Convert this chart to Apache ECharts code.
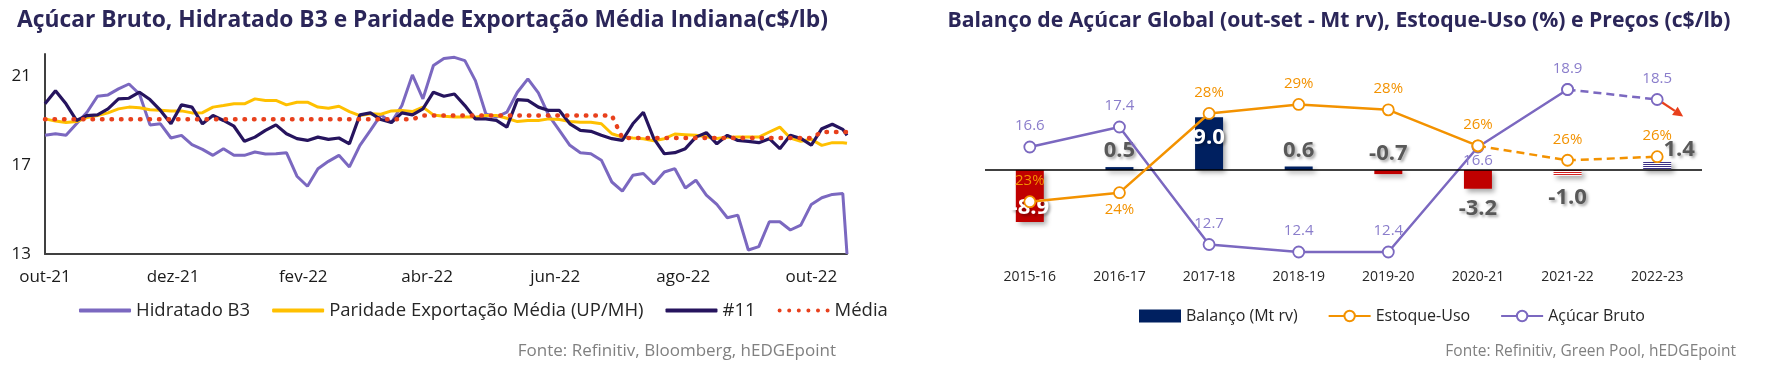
<!DOCTYPE html>
<html><head><meta charset="utf-8">
<script src="https://cdn.jsdelivr.net/npm/echarts@6/dist/echarts.min.js"></script>
<style>html,body{margin:0;padding:0;background:#fff}#c{width:1783px;height:374px}</style>
</head><body><div id="c"></div>
<script>
// ---------- Left chart data ----------
const xDates = [
'2021-10-01','2021-10-06','2021-10-11','2021-10-16','2021-10-21','2021-10-26','2021-10-31',
'2021-11-05','2021-11-10','2021-11-15','2021-11-20','2021-11-25','2021-11-30',
'2021-12-05','2021-12-10','2021-12-15','2021-12-20','2021-12-25','2021-12-30',
'2022-01-04','2022-01-09','2022-01-14','2022-01-19','2022-01-24','2022-01-29',
'2022-02-03','2022-02-08','2022-02-13','2022-02-18','2022-02-23','2022-02-28',
'2022-03-05','2022-03-10','2022-03-15','2022-03-20','2022-03-25','2022-03-30',
'2022-04-04','2022-04-09','2022-04-14','2022-04-19','2022-04-24','2022-04-29',
'2022-05-04','2022-05-09','2022-05-14','2022-05-19','2022-05-24','2022-05-29',
'2022-06-03','2022-06-08','2022-06-13','2022-06-18','2022-06-23','2022-06-28',
'2022-07-03','2022-07-08','2022-07-13','2022-07-18','2022-07-23','2022-07-28',
'2022-08-02','2022-08-07','2022-08-12','2022-08-17','2022-08-22','2022-08-27',
'2022-09-01','2022-09-06','2022-09-11','2022-09-16','2022-09-21','2022-09-26',
'2022-10-01','2022-10-06','2022-10-11','2022-10-16','2022-10-18'];

const hidratadoB3 = [
18.34,18.41,18.34,18.86,19.38,20.10,20.16,
20.43,20.65,20.20,18.81,18.86,18.22,
18.34,17.92,17.71,17.44,17.74,17.44,
17.44,17.59,17.50,17.51,17.56,16.50,
16.05,16.84,17.17,17.44,16.92,17.89,
18.56,19.26,18.92,19.68,21.06,19.98,
21.48,21.80,21.85,21.70,20.80,19.30,
19.16,19.38,20.28,20.88,20.25,19.23,
18.56,17.89,17.56,17.51,17.22,16.24,
15.83,16.54,16.62,16.15,16.69,16.84,
15.97,16.32,15.65,15.23,14.63,14.75,
13.18,13.33,14.45,14.45,14.08,14.30,
15.23,15.53,15.68,15.72,13.00];

const paridade = [
19.08,18.98,18.92,18.96,19.14,19.23,19.35,
19.53,19.61,19.58,19.49,19.47,19.43,
19.44,19.35,19.36,19.61,19.68,19.76,
19.76,19.98,19.91,19.91,19.71,19.83,
19.83,19.61,19.56,19.65,19.41,19.23,
19.31,19.29,19.44,19.46,19.41,19.61,
19.26,19.20,19.16,19.16,19.16,19.23,
19.23,19.11,18.96,19.01,19.01,19.08,
19.05,18.96,18.93,18.93,18.86,18.41,
18.26,18.22,18.19,18.10,18.19,18.40,
18.37,18.34,18.28,18.20,18.25,18.26,
18.26,18.26,18.49,18.71,18.22,18.07,
18.16,17.89,18.01,18.01,17.98];

const sugar11 = [
19.76,20.35,19.76,19.01,19.23,19.26,19.53,
19.98,20.01,20.28,19.95,19.46,18.86,
19.71,19.61,18.86,19.23,19.01,18.75,
18.07,18.26,18.56,18.81,18.41,18.19,
18.11,18.26,18.16,18.22,17.96,19.26,
19.35,19.05,18.92,19.35,19.26,19.53,
20.28,20.10,20.20,19.68,19.08,19.08,
19.01,18.71,19.95,19.91,19.61,19.46,
19.46,18.86,18.56,18.52,18.34,18.19,
18.11,18.86,19.38,18.19,17.51,17.56,
17.74,18.26,18.46,17.96,18.34,18.11,
18.07,18.01,18.19,17.74,18.34,18.20,
17.90,18.64,18.84,18.61,18.34];

const media = [
19.06,19.06,19.06,19.06,19.06,19.06,19.06,
19.06,19.06,19.06,19.06,19.06,19.06,
19.06,19.06,19.06,19.06,19.06,19.06,
19.06,19.06,19.06,19.06,19.06,19.06,
19.06,19.06,19.06,19.06,19.06,19.06,
19.06,19.06,19.06,19.06,19.06,19.23,
19.23,19.23,19.23,19.23,19.23,19.23,
19.23,19.23,19.23,19.23,19.23,19.23,
19.23,19.23,19.23,19.23,19.23,19.23,
18.22,18.22,18.22,18.22,18.22,18.22,
18.22,18.22,18.22,18.22,18.22,18.22,
18.22,18.22,18.22,18.22,18.22,18.22,
18.22,18.49,18.49,18.49,18.49];

const xTickDates = ['2021-10-01','2021-12-01','2022-02-01','2022-04-01','2022-06-01','2022-08-01','2022-10-01'];
const monthsPt = ['jan','fev','mar','abr','mai','jun','jul','ago','set','out','nov','dez'];
const yTicksLeft = [13, 17, 21];

// ---------- Right chart data ----------
const seasons = ['2015-16','2016-17','2017-18','2018-19','2019-20','2020-21','2021-22','2022-23'];
const balance = [-8.9, 0.5, 9.0, 0.6, -0.7, -3.2, -1.0, 1.4];
const stockUse = [23.3, 23.8, 28.2, 28.7, 28.4, 26.4, 25.6, 25.8];
const rawPrice = [16.6, 17.4, 12.7, 12.4, 12.4, 16.6, 18.9, 18.5];

// ---------- styles ----------
const FONT = "'Open Sans', sans-serif";
const C_HYD = '#7B68C0', C_PAR = '#FFC000', C_11 = '#26145E', C_MED = '#E8401C';
const NAVY = '#002060', RED = '#C00000', ORANGE = '#F39200', PURPLE = '#7B68C0';
const stockDashFrom = 5, priceDashFrom = 6, hatchFrom = 6;

function ts(s){ const p = s.split('-'); return new Date(+p[0], +p[1]-1, +p[2]).getTime(); }
function stripes(c){
  const cv = document.createElement('canvas'); cv.width = 4; cv.height = 2;
  const g = cv.getContext('2d'); g.fillStyle = '#ffffff'; g.fillRect(0,0,4,2);
  g.fillStyle = c; g.fillRect(0,0,4,1);
  return {image: cv, repeat: 'repeat'};
}
// dotted legend icon (six round dots)
let dotPath = 'path://';
for (let k = 0; k < 6; k++) { const cx = 2 + k * 9.6; dotPath += 'M' + (cx - 2) + ',2a2,2 0 1,0 4,0a2,2 0 1,0 -4,0z'; }

const barLabelStyle = [
  {position:'insideBottom', distance:3, color:'#fff'},
  {position:'top', distance:5},
  {position:'insideTop', distance:9, color:'#fff'},
  {position:'top', distance:5},
  {position:'top', distance:5},
  {position:'bottom', distance:9},
  {position:'bottom', distance:11},
  {position:'top', distance:1, offset:[22,0]}
];

const chart = echarts.init(document.getElementById('c'), null, {renderer:'canvas'});
const pair = arr => xDates.map((d,i) => [ts(d), arr[i]]);

const barData = balance.map((v,i) => {
  let color = v >= 0 ? NAVY : RED;
  if (i >= hatchFrom) color = stripes(v >= 0 ? '#3B2F86' : '#D62020');
  return {value: v, itemStyle: {color}, label: barLabelStyle[i]};
});

const fonteTexts = [
  {type: 'text', right: 1783 - 836, top: 343, style: {text: 'Fonte: Refinitiv, Bloomberg, hEDGEpoint', fill: '#808080', font: "17px 'Open Sans'"}},
  {type: 'text', right: 1783 - 1736, top: 344, style: {text: 'Fonte: Refinitiv, Green Pool, hEDGEpoint', fill: '#808080', font: "15.5px 'Open Sans'"}}
];

const option = {
  animation: false,
  textStyle: {fontFamily: FONT},
  title: [
    {text: 'Açúcar Bruto, Hidratado B3 e Paridade Exportação Média Indiana(c$/lb)', left: 12, top: 4,
     textStyle: {fontSize: 22.8, fontWeight: 'bold', color: '#2B2659', fontFamily: FONT}},
    {text: 'Balanço de Açúcar Global (out-set - Mt rv), Estoque-Uso (%) e Preços (c$/lb)', left: 1334, textAlign: 'center', top: 5,
     textStyle: {fontSize: 21.2, fontWeight: 'bold', color: '#2B2659', fontFamily: FONT}}
  ],
  legend: [
    {data: [{name:'Hidratado B3', icon:'roundRect'}, {name:'Paridade Exportação Média (UP/MH)', icon:'roundRect'},
            {name:'#11', icon:'roundRect'}, {name:'Média', icon: dotPath}],
     left: 74, top: 296, itemWidth: 52, itemHeight: 4, itemGap: 22,
     textStyle: {fontSize: 18.5, color: '#262626', fontFamily: FONT}},
    {data: [{name:'Balanço (Mt rv)', icon:'rect'}, 'Estoque-Uso', 'Açúcar Bruto'], left: 1134, top: 303,
     itemWidth: 42, itemHeight: 13, itemGap: 30,
     textStyle: {fontSize: 16, color: '#262626', fontFamily: FONT}}
  ],
  grid: [
    {left: 45, top: 54, width: 802, height: 200},
    {left: 985, top: 60, width: 717, height: 200}
  ],
  xAxis: [
    {type: 'value', gridIndex: 0, min: ts('2021-10-01'), max: ts('2022-10-18'),
     axisLine: {show: true, onZero: false, lineStyle: {color: '#404040', width: 2}},
     axisTick: {show: false}, splitLine: {show: false},
     axisLabel: {customValues: xTickDates.map(ts), fontSize: 17, color: '#1a1a1a', margin: 15, fontFamily: FONT,
       formatter: v => { const d = new Date(v); return monthsPt[d.getMonth()] + '-' + String(d.getFullYear()).slice(2); }}},
    {type: 'category', gridIndex: 1, data: seasons,
     axisLine: {show: false}, axisTick: {show: false},
     axisLabel: {fontSize: 14, color: '#262626', margin: 10, fontFamily: FONT}}
  ],
  yAxis: [
    {type: 'value', gridIndex: 0, min: 13, max: 22,
     axisLine: {show: true, onZero: false, lineStyle: {color: '#404040', width: 2}},
     axisTick: {show: false}, splitLine: {show: false},
     axisLabel: {customValues: yTicksLeft, fontSize: 17, color: '#1a1a1a', margin: 14, fontFamily: FONT}},
    {type: 'value', gridIndex: 1, min: -15.38, max: 18.8, show: false, splitLine:{show:false}},
    {type: 'value', gridIndex: 1, min: 20.06, max: 31.17, show: false, splitLine:{show:false}},
    {type: 'value', gridIndex: 1, min: 12.08, max: 20.08, show: false, splitLine:{show:false}}
  ],
  series: [
    {name: 'Hidratado B3', type: 'line', xAxisIndex: 0, yAxisIndex: 0, data: pair(hidratadoB3),
     symbol: 'none', lineStyle: {color: C_HYD, width: 3}, itemStyle: {color: C_HYD}, z: 2},
    {name: 'Paridade Exportação Média (UP/MH)', type: 'line', xAxisIndex: 0, yAxisIndex: 0, data: pair(paridade),
     symbol: 'none', lineStyle: {color: C_PAR, width: 3}, itemStyle: {color: C_PAR}, z: 3},
    {name: '#11', type: 'line', xAxisIndex: 0, yAxisIndex: 0, data: pair(sugar11),
     symbol: 'none', lineStyle: {color: C_11, width: 3.2}, itemStyle: {color: C_11}, z: 4},
    {name: 'Média', type: 'line', xAxisIndex: 0, yAxisIndex: 0, data: pair(media),
     symbol: 'none', lineStyle: {color: C_MED, width: 4.5, type: [0.5, 9], cap: 'round'}, itemStyle: {color: C_MED}, z: 5},

    {name: 'Balanço (Mt rv)', type: 'bar', xAxisIndex: 1, yAxisIndex: 1, barWidth: 28, data: barData,
     itemStyle: {color: NAVY, shadowColor: 'rgba(0,0,0,0.35)', shadowBlur: 5, shadowOffsetX: 3, shadowOffsetY: 3},
     label: {show: true, formatter: p => p.value.toFixed(1), fontSize: 22, fontWeight: 'bold', color: '#595959', fontFamily: FONT,
       textShadowColor: 'rgba(0,0,0,0.35)', textShadowBlur: 3, textShadowOffsetX: 2, textShadowOffsetY: 2},
     markLine: {silent: true, symbol: ['none','none'], label: {show: false},
       lineStyle: {color: '#000', width: 1.5, type: 'solid'}, data: [{yAxis: 0}]}, z: 2},

    {name: 'Açúcar Bruto', type: 'line', xAxisIndex: 1, yAxisIndex: 3,
     data: rawPrice.map((v,i) => i <= priceDashFrom ? {value: v, label: {position: i === 5 ? 'bottom' : 'top', distance: i === 5 ? 0 : 7}} : '-'),
     symbol: 'circle', symbolSize: 11, itemStyle: {color: '#fff', borderColor: PURPLE, borderWidth: 1.8},
     lineStyle: {color: PURPLE, width: 2.5},
     label: {show: true, formatter: p => p.value.toFixed(1), color: '#8A7DCB', fontSize: 15, fontFamily: FONT}, z: 4},
    {name: 'Açúcar Bruto', type: 'line', xAxisIndex: 1, yAxisIndex: 3,
     data: rawPrice.map((v,i) => i >= priceDashFrom ? {value: v, label: {show: i > priceDashFrom, position: 'top', distance: 7}} : '-'),
     symbol: 'circle', symbolSize: 11, itemStyle: {color: '#fff', borderColor: PURPLE, borderWidth: 1.8},
     lineStyle: {color: PURPLE, width: 2.5, type: [8, 5]},
     label: {show: true, formatter: p => p.value.toFixed(1), color: '#8A7DCB', fontSize: 15, fontFamily: FONT}, z: 4},

    {name: 'Estoque-Uso', type: 'line', xAxisIndex: 1, yAxisIndex: 2,
     data: stockUse.map((v,i) => i <= stockDashFrom ? {value: v, label: {position: i === 1 ? 'bottom' : 'top', distance: i === 1 ? 3 : 7}} : '-'),
     symbol: 'circle', symbolSize: 11, itemStyle: {color: '#fff', borderColor: ORANGE, borderWidth: 1.8},
     lineStyle: {color: ORANGE, width: 2.5},
     label: {show: true, formatter: p => Math.round(p.value) + '%', color: ORANGE, fontSize: 15, fontFamily: FONT}, z: 5},
    {name: 'Estoque-Uso', type: 'line', xAxisIndex: 1, yAxisIndex: 2,
     data: stockUse.map((v,i) => i >= stockDashFrom ? {value: v, label: {show: i > stockDashFrom, position: 'top', distance: 7}} : '-'),
     symbol: 'circle', symbolSize: 11, itemStyle: {color: '#fff', borderColor: ORANGE, borderWidth: 1.8},
     lineStyle: {color: ORANGE, width: 2.5, type: [8, 5]},
     label: {show: true, formatter: p => Math.round(p.value) + '%', color: ORANGE, fontSize: 15, fontFamily: FONT}, z: 5}
  ],
  graphic: fonteTexts
};
chart.setOption(option);

// arrow annotation after the last price point
const last = rawPrice.length - 1;
const pt = chart.convertToPixel({seriesIndex: 6}, [last, rawPrice[last]]);
if (pt) {
  const x1 = pt[0] + 5, y1 = pt[1] + 3, x2 = pt[0] + 26, y2 = pt[1] + 17;
  const ang = Math.atan2(y2 - y1, x2 - x1), L = 10, W = 5;
  const bx = x2 - L * Math.cos(ang), by = y2 - L * Math.sin(ang);
  chart.setOption({graphic: fonteTexts.concat([
    {type: 'line', shape: {x1, y1, x2: bx, y2: by}, style: {stroke: '#E8401C', lineWidth: 2.2}, z: 10},
    {type: 'polygon', shape: {points: [[x2, y2], [bx + W * Math.sin(ang), by - W * Math.cos(ang)], [bx - W * Math.sin(ang), by + W * Math.cos(ang)]]},
     style: {fill: '#E8401C'}, z: 10}
  ])});
}
</script></body></html>
